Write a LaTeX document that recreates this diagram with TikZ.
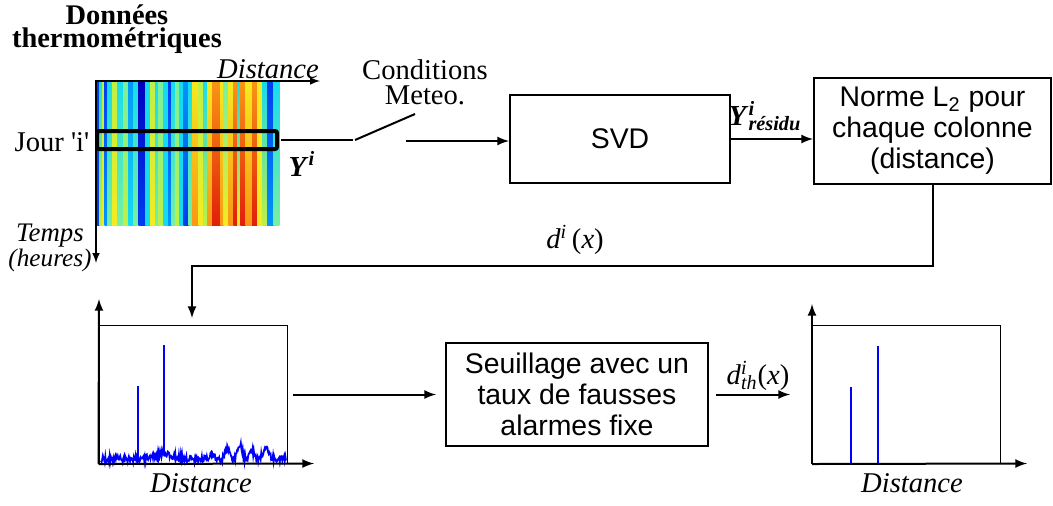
\documentclass[tikz,border=0pt]{standalone}
\usepackage{fontspec}
\setmainfont{Liberation Serif}
\newfontfamily\plainserif{Liberation Serif}
\newfontfamily\arialfont{Liberation Sans}
\definecolor{jd}{RGB}{0,0,190}
\definecolor{jb}{RGB}{0,60,240}
\definecolor{jm}{RGB}{0,150,250}
\definecolor{jc}{RGB}{20,220,240}
\definecolor{jl}{RGB}{120,240,160}
\definecolor{jg}{RGB}{190,240,70}
\definecolor{jy}{RGB}{245,235,30}
\definecolor{jo}{RGB}{250,150,20}
\definecolor{jr}{RGB}{225,30,10}
\definecolor{sigblue}{RGB}{0,0,255}
\tikzset{
  bloc/.style={draw, line width=1pt, inner sep=0pt, align=center,
    font=\arialfont\fontsize{14.2}{15.5}\selectfont},
  lbl/.style={inner sep=0pt, align=center, font=\fontsize{14.3}{15}\selectfont},
  itlbl/.style={lbl, font=\itshape\fontsize{14.3}{15}\selectfont},
  fleche/.style={-latex, line width=1pt},
  cadre/.style={draw, line width=.5pt, inner sep=0pt, minimum width=94pt, minimum height=69pt},
  axe/.style={-latex, line width=1pt},
}
\begin{document}
\begin{tikzpicture}[x=.5pt,y=-.5pt]
  \useasboundingbox (0,0) rectangle (1053,505);
  % carte des temperatures
  \foreach \xa/\xb/\ct/\cb in {95.3/99.3/jb/jb, 99.3/102/jc/jg, 102/104.7/jg/jy,
      104.7/107/jb/jm, 107/112/jc/jl, 112/117/jg/jy, 117/123.7/jc/jl,
      123.7/128.7/jl/jg, 128.7/133.7/jm/jc, 133.7/138.7/jc/jl, 138.7/145.3/jd/jb,
      145.3/150.3/jc/jc, 150.3/155.3/jg/jy, 155.3/158.7/jc/jl, 158.7/163.7/jl/jg,
      163.7/168/jc/jc, 168/171.3/jb/jm, 171.3/175.3/jc/jl, 175.3/179.3/jl/jg,
      179.3/183.7/jc/jc, 183.7/188.7/jm/jb, 188.7/192/jc/jl, 192/198.7/jy/jo,
      198.7/203.7/jg/jy, 203.7/207/jc/jg, 207/212/jy/jo, 212/220.3/jo/jr,
      220.3/223.7/jy/jo, 223.7/228.7/jl/jy, 228.7/233.7/jy/jo, 233.7/237/jo/jr,
      237/240.3/jc/jy, 240.3/245.3/jo/jr, 245.3/252/jy/jo, 252/257/jo/jr,
      257/262/jy/jy, 262/267/jc/jg, 267/273.7/jb/jm, 273.7/278.7/jc/jl}
    \shade[top color=\ct, bottom color=\cb] (\xa,81) rectangle (\xb+.6,225);
  \draw[-latex, line width=.7pt] (95,81) -- (320,81);
  \draw[-latex, line width=.7pt] (96,81) -- (96,263);
  \node[lbl, font=\bfseries\fontsize{14.2}{11.4}\selectfont] (titre) at (117,29) {Données\\thermométriques};
  \node[itlbl] (distH) at (268,69) {Distance};
  \node[lbl] (jourlbl) at (52,142) {\plainserif Jour 'i'};
  \node[itlbl, font=\itshape\fontsize{13.4}{14}\selectfont] (temps) at (50,236) {Temps};
  \node[itlbl, font=\itshape\fontsize{12.6}{13}\selectfont] (heures) at (50,260) {(heures)};
  \node[draw, line width=2pt, rounded corners=1pt, inner sep=0pt,
    minimum width=90pt, minimum height=9pt] (jour) at (187,140) {};
  % interrupteur
  \coordinate (sw1) at (353,140);
  \coordinate (sw2) at (415,114);
  \coordinate (sw3) at (406,141);
  \node[lbl, font=\fontsize{14.3}{12.5}\selectfont] (meteo) at (425,82) {Conditions\\Meteo.};
  \node[lbl, font=\fontsize{14.5}{15}\selectfont] (yi) at (302,164) {\textbf{\textit{Y}}\textsuperscript{\textbf{\textit{i}}}};
  \draw[line width=1pt] ([xshift=1pt]jour.east) -- (sw1);
  \draw[line width=1pt] ([xshift=1pt]sw1) -- (sw2);
  % blocs
  \node[bloc, minimum width=110pt, minimum height=44pt] (svd) at (620,139) {SVD};
  \node[bloc, minimum width=118.5pt, minimum height=53pt] (norme) at (932.5,131) {Norme L\textsubscript{2} pour\\chaque colonne\\(distance)};
  \node[bloc, minimum width=131pt, minimum height=51.5pt] (seuil) at (577,394.5) {Seuillage avec un\\taux de fausses\\alarmes fixe};
  \draw[fleche] (sw3) -- (svd.west |- sw3);
  \draw[fleche] (svd.east) -- (svd.east -| norme.west);
  \node[lbl, font=\fontsize{14.5}{15}\selectfont] (yres) at (765,116) {\textbf{\textit{Y}}\rlap{\textsuperscript{\textbf{\textit{i}}}}\textsubscript{\textbf{\textit{résidu}}}};
  % courbe de la norme
  \node[cadre] (plotA) at (193,394.5) {};
  \coordinate (coude) at (192,266);
  \draw[fleche] (norme.south) |- (coude) -- ([yshift=3.5pt]coude |- plotA.north);
  \node[itlbl, font=\fontsize{14.3}{15}\selectfont] (di) at (575,240) {\textit{d}\textsuperscript{\textit{i}}\,(\textit{x})};
  \pgfmathsetseed{12}
  \draw[sigblue, line width=.9pt] plot[domain=101:286, samples=300]
    (\x, {459 - 6*max(0,1-abs(\x-163)/22) - 5*max(0,1-abs(\x-212)/4)
      - 11*max(0,1-abs(\x-227)/5) - 15*max(0,1-abs(\x-240)/5)
      - 9*max(0,1-abs(\x-252)/5) - 13*max(0,1-abs(\x-266)/6) + 3.5*rand});
  \draw[sigblue, line width=.8pt] (138,457) -- (138,386);
  \draw[sigblue, line width=.8pt] (164,455) -- (164,345);
  \draw[axe] (plotA.south west) -- (99,299);
  \draw[axe] (plotA.south west) -- (314,463.5);
  \node[itlbl] (distA) at (201,483) {Distance};
  % apres seuillage
  \node[cadre] (plotB) at (906.5,394.5) {};
  \draw[sigblue, line width=.8pt] (851,463) -- (851,387);
  \draw[sigblue, line width=.8pt] (878,463) -- (878,346);
  \draw[axe] (plotB.south west) -- (812,304);
  \draw[axe] (plotB.south west) -- (1027,463.5);
  \node[itlbl] (distB) at (912,483) {Distance};
  \draw[fleche] ([xshift=2.5pt]plotA.east) -- ([xshift=-4.5pt]seuil.west);
  \draw[fleche] ([xshift=3.5pt]seuil.east) -- ([xshift=-11pt]plotB.west);
  \node[lbl] (dth) at (758,376) {\textit{d}\rlap{\textsuperscript{\textit{i}}}\textsubscript{\textit{th}}(\textit{x})};
\end{tikzpicture}
\end{document}
